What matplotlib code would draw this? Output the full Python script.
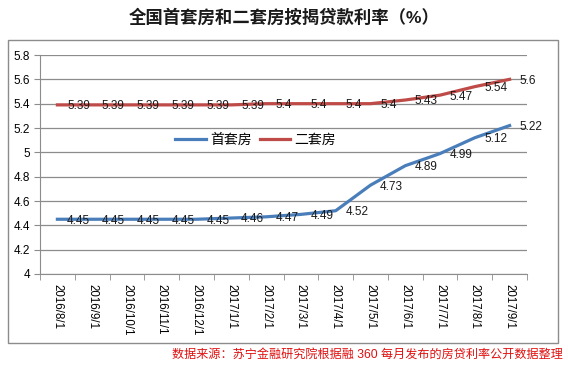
import matplotlib
matplotlib.use("Agg")
import matplotlib.pyplot as plt
from matplotlib.patches import Rectangle
from matplotlib.ticker import FixedLocator

plt.rcParams['font.family'] = ['Liberation Sans', 'Noto Sans CJK SC']

dates = ["2016/8/1", "2016/9/1", "2016/10/1", "2016/11/1", "2016/12/1",
         "2017/1/1", "2017/2/1", "2017/3/1", "2017/4/1", "2017/5/1",
         "2017/6/1", "2017/7/1", "2017/8/1", "2017/9/1"]
first_home = [4.45, 4.45, 4.45, 4.45, 4.45, 4.46, 4.47, 4.49, 4.52, 4.73,
              4.89, 4.99, 5.12, 5.22]
second_home = [5.39, 5.39, 5.39, 5.39, 5.39, 5.39, 5.4, 5.4, 5.4, 5.4,
               5.43, 5.47, 5.54, 5.6]
yticks = [4, 4.2, 4.4, 4.6, 4.8, 5, 5.2, 5.4, 5.6, 5.8]
ytick_labels = ["4", "4.2", "4.4", "4.6", "4.8", "5", "5.2", "5.4", "5.6", "5.8"]

blue = "#4A7EBB"
red = "#BE4B48"
grid_c = "#8C8C8C"

fig = plt.figure(figsize=(5.68, 3.73), dpi=100)
fig.patches.append(Rectangle((8 / 568, 1 - 343 / 373), 550 / 568, 303 / 373,
                             transform=fig.transFigure, fill=False,
                             edgecolor="#8C8C8C", linewidth=1))

ax = fig.add_axes([40 / 568, 1 - 274 / 373, 487 / 568, 219 / 373])
x = list(range(len(dates)))
ax.plot(x, first_home, color=blue, linewidth=2.3, label="首套房", zorder=3)
ax.plot(x, second_home, color=red, linewidth=2.3, label="二套房", zorder=3)

def fmt(v):
    s = f"{v:.2f}".rstrip("0").rstrip(".")
    return s

for xi, v in zip(x, first_home):
    ax.annotate(fmt(v), (xi, v), xytext=(7, -1), textcoords="offset points",
                ha="left", va="center", fontsize=8.5, color="#1a1a1a", zorder=4)
for xi, v in zip(x, second_home):
    ax.annotate(fmt(v), (xi, v), xytext=(7, -1), textcoords="offset points",
                ha="left", va="center", fontsize=8.5, color="#1a1a1a", zorder=4)

ax.set_xlim(-0.5, len(dates) - 0.5)
ax.set_ylim(4, 5.8)
ax.set_yticks(yticks)
ax.set_yticklabels(ytick_labels, fontsize=8.5)
ax.yaxis.grid(True, color=grid_c, linewidth=0.9)
ax.set_axisbelow(True)

ax.set_xticks(x)
ax.set_xticklabels(dates, rotation=270, fontsize=8.3, va="top", ha="center")
ax.xaxis.set_minor_locator(FixedLocator([i - 0.5 for i in range(len(dates) + 1)]))
ax.tick_params(axis="x", which="major", length=0, pad=7)
ax.tick_params(axis="x", which="minor", length=4, color=grid_c)
ax.tick_params(axis="y", length=4, color=grid_c, pad=3)

for s in ["top", "right"]:
    ax.spines[s].set_visible(False)
for s in ["left", "bottom"]:
    ax.spines[s].set_color(grid_c)

ax.legend(loc="center", bbox_to_anchor=(0.443, 0.612), ncol=2, frameon=False,
          fontsize=10, handlelength=2.2, handletextpad=0.3, columnspacing=0.6)

fig.text(0.5, 1 - 17 / 373, "全国首套房和二套房按揭贷款利率（%）", ha="center",
         va="center", fontsize=12.5, fontweight="bold", color="#1a1a1a")
fig.text(563 / 568, 1 - 355 / 373,
         "数据来源：苏宁金融研究院根据融 360 每月发布的房贷利率公开数据整理",
         ha="right", va="center", fontsize=8.7, color="#E01010")

fig.savefig("out.png", dpi=100)
